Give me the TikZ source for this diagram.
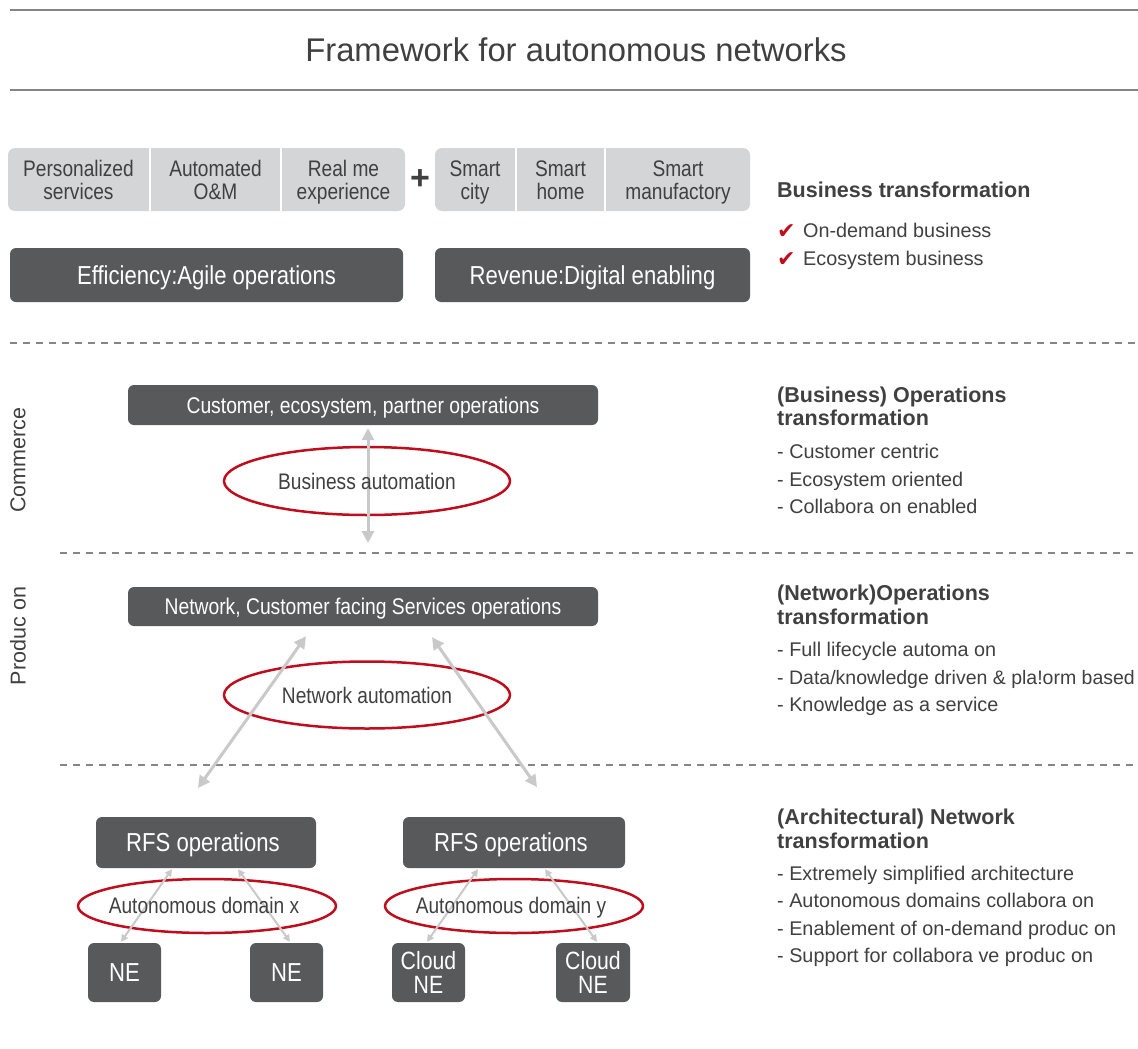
\documentclass[tikz,border=0pt]{standalone}
\usepackage{fontspec}
\setmainfont{Liberation Sans}
\newfontfamily\nar[FakeStretch=0.85]{Liberation Sans}
\newfontfamily\dejavu{DejaVu Sans}
\usetikzlibrary{arrows.meta,shapes.geometric}
\definecolor{dk}{HTML}{58595B}
\definecolor{lt}{HTML}{D4D5D7}
\definecolor{txt}{HTML}{404040}
\definecolor{rd}{HTML}{C00D1E}
\definecolor{ar}{HTML}{C9C9C9}
\definecolor{ln}{HTML}{858585}
\begin{document}
\begin{tikzpicture}[x=1pt,y=-1pt,
  darkbox/.style={fill=dk, rounded corners=6pt, text=white, inner sep=0pt, align=center, text depth=0pt},
  ltgroup/.style={fill=lt, rounded corners=7pt, inner sep=0pt},
  celltext/.style={text=txt, inner sep=0pt, align=center, text height=39.4pt, text depth=0pt, font=\nar\fontsize{22.5}{23}\selectfont},
  sep/.style={white, line width=2pt},
  hline/.style={ln, line width=2.5pt},
  dline/.style={ln, line width=1.2pt, dash pattern=on 7pt off 6pt},
  redell/.style={ellipse, draw=rd, line width=2.5pt, inner sep=0pt},
  elltext/.style={text=txt, inner sep=0pt, text depth=0pt, font=\nar\fontsize{22.5}{24}\selectfont},
  bigarrow/.style={ar, line width=3pt, {Triangle[width=12pt,length=12pt]}-{Triangle[width=12pt,length=12pt]}},
  smallarrow/.style={ar, line width=2pt, {Triangle[width=7pt,length=7pt]}-{Triangle[width=7pt,length=7pt]}},
  rhead/.style={anchor=base west, inner sep=0pt, text=txt, font=\bfseries\fontsize{21.5}{23}\selectfont},
  ritem/.style={anchor=base west, inner sep=0pt, text=txt, font=\fontsize{19.8}{22}\selectfont},
  chk/.style={anchor=base west, inner sep=0pt, text=rd, font=\dejavu\fontsize{22}{22}\selectfont},
  sidelabel/.style={rotate=90, inner sep=0pt, text=txt, font=\fontsize{21.5}{24}\selectfont}
]
\useasboundingbox (0,0) rectangle (1138,1049);
\fill[white] (0,0) rectangle (1138,1049);

% title and rules
\draw[hline] (10,10) -- (1138,10);
\draw[hline] (10,90) -- (1138,90);
\node[text=txt, inner sep=0pt, font=\fontsize{32.8}{36}\selectfont] (title) at (576,50) {Framework for autonomous networks};

% top light groups
\node[ltgroup, minimum width=397pt, minimum height=63pt] (g1) at (206.5,179.5) {};
\node[ltgroup, minimum width=315pt, minimum height=63pt] (g2) at (592.5,179.5) {};
\draw[sep] (150,148) -- (150,211);
\draw[sep] (281,148) -- (281,211);
\draw[sep] (516,148) -- (516,211);
\draw[sep] (605,148) -- (605,211);
\node[celltext] (c1) at (78.5,179.5) {Personalized\\services};
\node[celltext] (c2) at (215.5,179.5) {Automated\\O\&M};
\node[celltext] (c3) at (343.5,179.5) {Real me\\experience};
\node[celltext] (c4) at (475,179.5) {Smart\\city};
\node[celltext] (c5) at (560.5,179.5) {Smart\\home};
\node[celltext] (c6) at (678,179.5) {Smart\\manufactory};
\node[text=txt, inner sep=0pt, font=\bfseries\fontsize{34}{36}\selectfont] (plus) at (420,180) {+};

% dark boxes
\node[darkbox, minimum width=393pt, minimum height=54pt, font=\nar\fontsize{26}{30}\selectfont] (eff) at (206.5,275) {Efficiency:Agile operations};
\node[darkbox, minimum width=315pt, minimum height=54pt, font=\nar\fontsize{26}{30}\selectfont] (rev) at (592.5,275) {Revenue:Digital enabling};

% right: business transformation
\node[rhead] (h1) at (777,197.5) {Business transformation};
\node[chk] (k1) at (777,238) {✔};
\node[ritem] (i1) at (803,237) {On-demand business};
\node[chk] (k2) at (777,266) {✔};
\node[ritem] (i2) at (803,265) {Ecosystem business};

% dashed separators
\draw[dline] (10,343) -- (1138,343);
\draw[dline] (60,553) -- (1138,553);
\draw[dline] (60,765) -- (1138,765);

% side labels
\node[sidelabel] (commerce) at (18,460) {Commerce};
\node[sidelabel] (production) at (18,636) {Produc on};

% commerce level
\node[darkbox, minimum width=470pt, minimum height=40pt, font=\nar\fontsize{22.7}{26}\selectfont] (cust) at (363,405) {Customer, ecosystem, partner operations};
\node[redell, minimum width=286pt, minimum height=68pt] (ba) at (367,481) {};
\coordinate (baend) at (368,543);
\draw[bigarrow] ([xshift=5pt,yshift=-3pt]cust.south) -- (baend);
\node[elltext] (batext) at (367,481) {Business automation};

% production level
\node[darkbox, minimum width=470pt, minimum height=39pt, font=\nar\fontsize{22.7}{26}\selectfont] (net) at (363,606.5) {Network, Customer facing Services operations};
\node[redell, minimum width=286pt, minimum height=67pt] (na) at (367,695) {};
\coordinate (nlend) at (198,788);
\coordinate (nrend) at (537,787);
\draw[bigarrow] ([xshift=-57pt,yshift=-10pt]net.south) -- (nlend);
\draw[bigarrow] ([xshift=69pt,yshift=-11pt]net.south) -- (nrend);
\node[elltext] (natext) at (367,695) {Network automation};

% network level
\node[darkbox, minimum width=220pt, minimum height=51pt, font=\nar\fontsize{26}{30}\selectfont] (rfsL) at (206,842.5) {RFS operations\hspace*{6pt}};
\node[darkbox, minimum width=222pt, minimum height=51pt, font=\nar\fontsize{26}{30}\selectfont] (rfsR) at (514,842.5) {RFS operations\hspace*{6pt}};
\node[darkbox, minimum width=73pt, minimum height=59pt, font=\nar\fontsize{26}{30}\selectfont] (neL1) at (124.5,972.5) {NE};
\node[darkbox, minimum width=73pt, minimum height=59pt, font=\nar\fontsize{26}{30}\selectfont] (neL2) at (286.5,972.5) {NE};
\node[darkbox, minimum width=73pt, minimum height=59pt, font=\nar\fontsize{25}{24}\selectfont] (neR1) at (428.5,972.5) {Cloud\\NE};
\node[darkbox, minimum width=74pt, minimum height=59pt, font=\nar\fontsize{25}{24}\selectfont] (neR2) at (593,972.5) {Cloud\\NE};
\node[redell, minimum width=258pt, minimum height=54pt] (adx) at (207,906) {};
\node[redell, minimum width=258pt, minimum height=54pt] (ady) at (514,906) {};
\draw[smallarrow] ([xshift=-34pt,yshift=-1pt]rfsL.south) -- ([xshift=-3.5pt,yshift=1pt]neL1.north);
\draw[smallarrow] ([xshift=32pt,yshift=-1pt]rfsL.south) -- ([xshift=3.5pt,yshift=1pt]neL2.north);
\draw[smallarrow] ([xshift=-36pt,yshift=-1pt]rfsR.south) -- ([xshift=-1.5pt,yshift=1pt]neR1.north);
\draw[smallarrow] ([xshift=31pt,yshift=-1pt]rfsR.south) -- ([xshift=4pt,yshift=1pt]neR2.north);
\node[elltext] (adxtext) at (204,905) {Autonomous domain x};
\node[elltext] (adytext) at (511,905) {Autonomous domain y};

% right: operations transformation (business)
\node[rhead] (h2a) at (777,402.5) {(Business) Operations};
\node[rhead] (h2b) at (777,425.5) {transformation};
\node[ritem] (j1) at (777,458) {- Customer centric};
\node[ritem] (j2) at (777,486) {- Ecosystem oriented};
\node[ritem] (j3) at (777,513) {- Collabora on enabled};

% right: operations transformation (network)
\node[rhead] (h3a) at (777,600.5) {(Network)Operations};
\node[rhead] (h3b) at (777,624.5) {transformation};
\node[ritem] (m1) at (777,656) {- Full lifecycle automa on};
\node[ritem, font=\fontsize{19.5}{22}\selectfont] (m2) at (777,684) {- Data/knowledge driven \& pla!orm based};
\node[ritem] (m3) at (777,711) {- Knowledge as a service};

% right: network transformation
\node[rhead] (h4a) at (777,824.5) {(Architectural) Network};
\node[rhead] (h4b) at (777,848.5) {transformation};
\node[ritem] (n1) at (777,880) {- Extremely simplified architecture};
\node[ritem] (n2) at (777,907) {- Autonomous domains collabora on};
\node[ritem] (n3) at (777,935) {- Enablement of on-demand produc on};
\node[ritem] (n4) at (777,962) {- Support for collabora ve produc on};
\end{tikzpicture}
\end{document}
